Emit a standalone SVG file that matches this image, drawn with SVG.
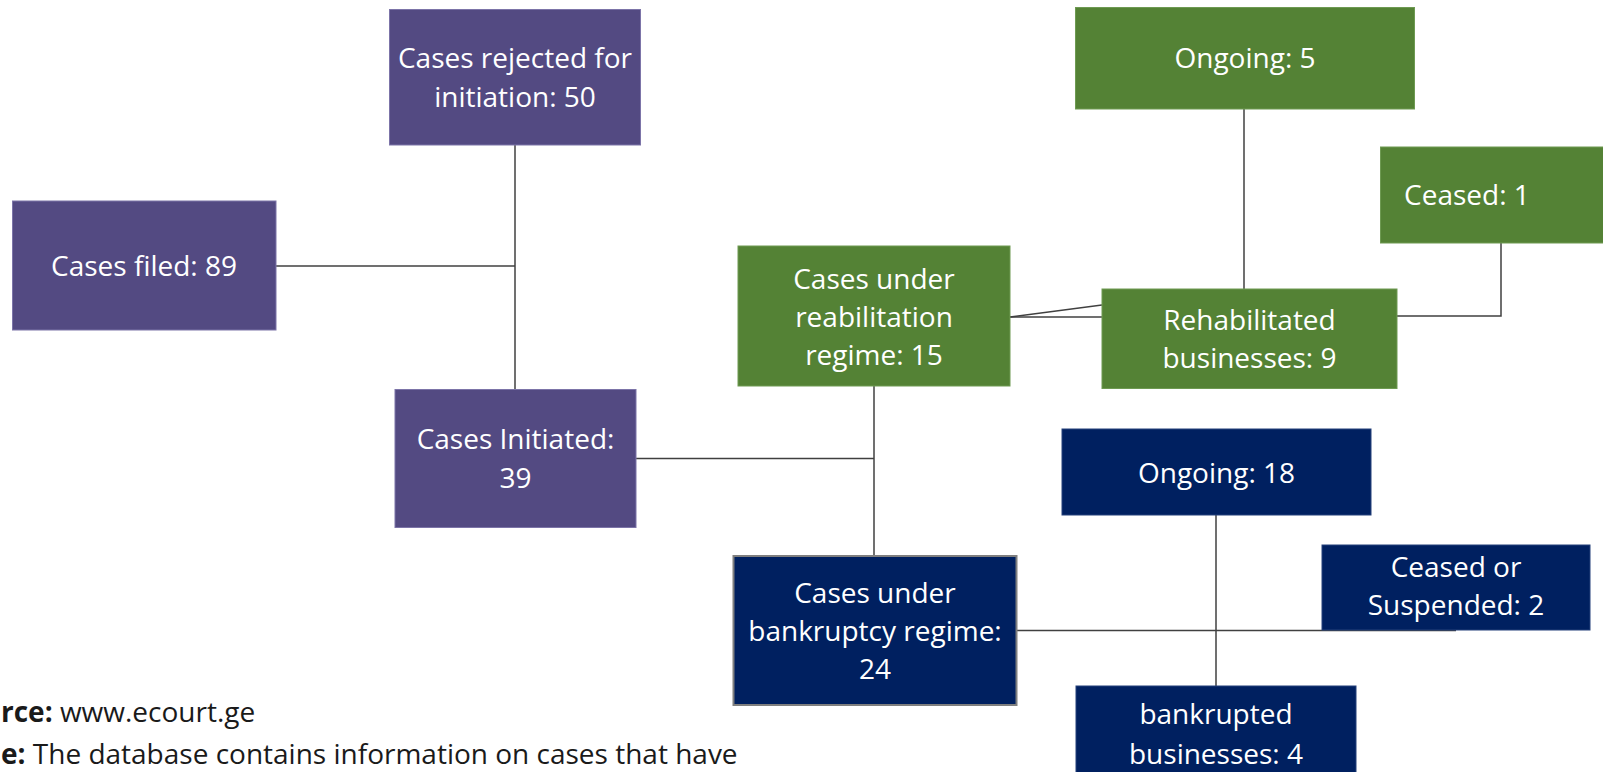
<svg xmlns="http://www.w3.org/2000/svg" width="1603" height="772" viewBox="0 0 1603 772">
  <style>
    .box-p { fill: #534A82; stroke: #7C74A8; stroke-width: 1; }
    .box-g { fill: #548235; stroke: #6E9A52; stroke-width: 1; }
    .box-n { fill: #002060; stroke: #24407A; stroke-width: 1; }
    .box-n2 { fill: #002060; stroke: #7F7F7F; stroke-width: 2; }
    .lbl { font-family: "Open Sans", "Liberation Sans", sans-serif; font-size: 28px; fill: #FFFFFF; text-anchor: middle; }
    .conn { fill: none; stroke: #404040; stroke-width: 1.5; }
    .note { font-family: "Open Sans", "Liberation Sans", sans-serif; font-size: 28px; fill: #1A1A1A; }
    .note .b { font-weight: bold; }
  </style>
  <rect width="1603" height="772" fill="#FFFFFF"/>

  <!-- links between the stages -->
  <g id="connectors">
    <path class="conn" d="M276,266 H515"/>
    <path class="conn" d="M515,145 V389"/>
    <path class="conn" d="M636,458.5 H874"/>
    <path class="conn" d="M874,386 V556"/>
    <path class="conn" d="M1010,317 L1102,305"/>
    <path class="conn" d="M1010,317 H1102"/>
    <path class="conn" d="M1244,109 V289"/>
    <path class="conn" d="M1397,316 H1501 V243"/>
    <path class="conn" d="M1017,630.5 H1456"/>
    <path class="conn" d="M1216,515 V686"/>
  </g>

  <g id="rejected">
    <rect class="box-p" x="389.5" y="9.5" width="251" height="135.5"/>
    <text class="lbl" x="515" y="68">Cases rejected for</text>
    <text class="lbl" x="515" y="107">initiation: 50</text>
  </g>

  <g id="filed">
    <rect class="box-p" x="12.5" y="201" width="263.5" height="129"/>
    <text class="lbl" x="144" y="276">Cases filed: 89</text>
  </g>

  <g id="initiated">
    <rect class="box-p" x="395" y="389.5" width="241" height="138"/>
    <text class="lbl" x="515.5" y="449">Cases Initiated:</text>
    <text class="lbl" x="515.5" y="488">39</text>
  </g>

  <g id="rehab-regime">
    <rect class="box-g" x="738" y="246" width="272" height="140"/>
    <text class="lbl" x="874" y="289">Cases under</text>
    <text class="lbl" x="874" y="327">reabilitation</text>
    <text class="lbl" x="874" y="365">regime: 15</text>
  </g>

  <g id="rehab-ongoing">
    <rect class="box-g" x="1075.5" y="7.5" width="339" height="101.5"/>
    <text class="lbl" x="1245" y="68">Ongoing: 5</text>
  </g>

  <g id="rehab-ceased">
    <rect class="box-g" x="1380.5" y="147" width="223" height="96"/>
    <text class="lbl" x="1467" y="205">Ceased: 1</text>
  </g>

  <g id="rehabilitated">
    <rect class="box-g" x="1102" y="289" width="295" height="99.5"/>
    <text class="lbl" x="1249.5" y="330">Rehabilitated</text>
    <text class="lbl" x="1249.5" y="368">businesses: 9</text>
  </g>

  <g id="bankruptcy-regime">
    <rect class="box-n2" x="733.5" y="556" width="283" height="149"/>
    <text class="lbl" x="875" y="603">Cases under</text>
    <text class="lbl" x="875" y="641">bankruptcy regime:</text>
    <text class="lbl" x="875" y="679">24</text>
  </g>

  <g id="bankr-ongoing">
    <rect class="box-n" x="1062" y="429" width="309" height="86"/>
    <text class="lbl" x="1216.5" y="483">Ongoing: 18</text>
  </g>

  <g id="bankr-ceased">
    <rect class="box-n" x="1322" y="545" width="268" height="85"/>
    <text class="lbl" x="1456" y="577">Ceased or</text>
    <text class="lbl" x="1456" y="615">Suspended: 2</text>
  </g>

  <g id="bankrupted">
    <rect class="box-n" x="1076" y="686" width="280" height="90"/>
    <text class="lbl" x="1216" y="724">bankrupted</text>
    <text class="lbl" x="1216" y="764">businesses: 4</text>
  </g>

  <!-- source and note lines -->
  <text class="note" x="1" y="722"><tspan class="b">rce:</tspan> www.ecourt.ge</text>
  <text class="note" x="1" y="764"><tspan class="b">e:</tspan> The database contains information on cases that have</text>
</svg>
